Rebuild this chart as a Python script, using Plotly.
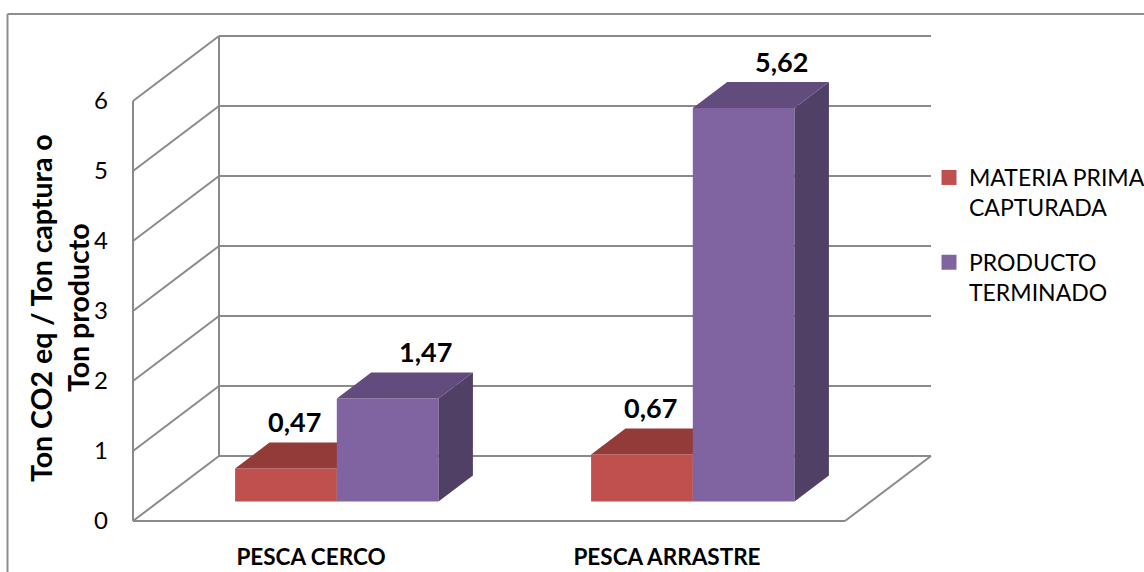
import plotly.graph_objects as go

# ---------------- data ----------------
categories = ["PESCA CERCO", "PESCA ARRASTRE"]
series_names = ["MATERIA PRIMA<br>CAPTURADA", "PRODUCTO<br>TERMINADO"]
materia_prima = [0.47, 0.67]
producto = [1.47, 5.62]
y_ticks = [0, 1, 2, 3, 4, 5, 6]
y_title_lines = ["Ton CO2 eq / Ton captura o", "Ton producto"]

series_values = [materia_prima, producto]

# ---------------- style / geometry ----------------
FONT = "Lato"
front_cols = ["#C0504D", "#8064A2"]
top_cols = ["#933B39", "#624C7D"]
side_cols = ["#7D302E", "#514066"]
GRID = "#8A8A8A"

FIG_W, FIG_H = 1144, 572
X_PX, Y_PX = 356.0, 70.0           # pixels per unit on the front plane
ML, MR, MT, MB = 126, 204, 31, 44
PW, PH = FIG_W - ML - MR, FIG_H - MT - MB
x0 = -0.5 - 7 / X_PX
y0 = -0.1
xr_ = [x0, x0 + PW / X_PX]
yr_ = [y0, y0 + PH / Y_PX]

BW = 1 / 3.5                       # bar width (gap width 150%)
DX, DY = 86 / X_PX, 65 / Y_PX      # full depth vector in data units
F0, F1 = 0.3, 0.7                  # bar depth span (fraction of depth)

n_cat = len(categories)
xmin, xmax = -0.5, n_cat - 0.5
ymax = y_ticks[-1]

fig = go.Figure()

# ---------------- walls & floor (shapes) ----------------
shapes = []
def seg(xa, ya, xb, yb):
    shapes.append(dict(type="line", xref="x", yref="y", x0=xa, y0=ya, x1=xb, y1=yb,
                       line=dict(color=GRID, width=2), layer="below"))

for v in y_ticks:
    seg(xmin + DX, v + DY, xmax + DX, v + DY)          # back wall gridlines
    seg(xmin, v, xmin + DX, v + DY)                    # side wall lines
seg(xmin + DX, DY, xmin + DX, ymax + DY)               # back wall left edge
seg(xmin, 0, xmin, ymax)                               # front vertical axis
seg(xmin, 0, xmax, 0)                                  # floor front edge
seg(xmax, 0, xmax + DX, DY)                            # floor right edge

# outer chart border (left + top)
def px_to_paper_x(px):
    return (px - ML) / PW
def px_to_paper_y(py):
    return (FIG_H - MB - py) / PH
shapes.append(dict(type="line", xref="paper", yref="paper",
                   x0=px_to_paper_x(7.5), y0=px_to_paper_y(14), x1=px_to_paper_x(7.5), y1=px_to_paper_y(600),
                   line=dict(color="#8E8E8E", width=2)))
shapes.append(dict(type="line", xref="paper", yref="paper",
                   x0=px_to_paper_x(7.5), y0=px_to_paper_y(14), x1=px_to_paper_x(1200), y1=px_to_paper_y(14),
                   line=dict(color="#8E8E8E", width=2)))

# ---------------- bars (3-D faces, painter order) ----------------
def poly(xs, ys, color):
    fig.add_trace(go.Scatter(x=xs + [xs[0]], y=ys + [ys[0]], mode="lines", fill="toself",
                             fillcolor=color, line=dict(width=0, color=color),
                             hoverinfo="skip", showlegend=False))

annotations = []
for c in range(n_cat):
    for s, vals in enumerate(series_values):
        v = vals[c]
        xl = c - BW + s * BW
        xr = xl + BW
        # front face
        poly([xl + F0 * DX, xr + F0 * DX, xr + F0 * DX, xl + F0 * DX],
             [F0 * DY, F0 * DY, v + F0 * DY, v + F0 * DY], front_cols[s])
        # side face
        poly([xr + F0 * DX, xr + F1 * DX, xr + F1 * DX, xr + F0 * DX],
             [F0 * DY, F1 * DY, v + F1 * DY, v + F0 * DY], side_cols[s])
        # top face
        poly([xl + F0 * DX, xr + F0 * DX, xr + F1 * DX, xl + F1 * DX],
             [v + F0 * DY, v + F0 * DY, v + F1 * DY, v + F1 * DY], top_cols[s])
        annotations.append(dict(x=(xl + xr) / 2 + F1 * DX, y=v + F1 * DY, xref="x", yref="y",
                                text="<b>" + f"{v:.2f}".replace(".", ",") + "</b>",
                                showarrow=False, yshift=21, xshift=(-26 if s == 0 else 3),
                                font=dict(family=FONT, size=27, color="black")))

# legend entries
for s, name in enumerate(series_names):
    fig.add_trace(go.Scatter(x=[None], y=[None], mode="markers", name=name,
                             legendgroup=str(s),
                             marker=dict(symbol="square", size=15, color=front_cols[s])))

# y-axis title (two lines)
for i, (line, px) in enumerate(zip(y_title_lines, [41, 78])):
    annotations.append(dict(x=px_to_paper_x(px), y=px_to_paper_y(308), xref="paper", yref="paper",
                            text="<b>" + line + "</b>", textangle=-90, showarrow=False,
                            xanchor="center", yanchor="middle",
                            font=dict(family=FONT, size=28.5, color="black")))

fig.update_layout(
    width=FIG_W, height=FIG_H,
    margin=dict(l=ML, r=MR, t=MT, b=MB, pad=0, autoexpand=False),
    paper_bgcolor="white", plot_bgcolor="white",
    font=dict(family=FONT, color="black"),
    shapes=shapes, annotations=annotations,
    showlegend=True,
    legend=dict(xref="container", yref="container", x=929 / FIG_W, y=1 - 156 / FIG_H,
                xanchor="left", yanchor="top", valign="top", tracegroupgap=22,
                font=dict(family=FONT, size=23, color="black"), bgcolor="rgba(0,0,0,0)"),
    xaxis=dict(range=xr_, showgrid=False, zeroline=False, showline=False, automargin=False,
               tickmode="array", tickvals=list(range(n_cat)),
               ticktext=["<b>" + c + "</b>" for c in categories], ticks="",
               ticklabelstandoff=13, tickfont=dict(family=FONT, size=22.5, color="black")),
    yaxis=dict(range=yr_, showgrid=False, zeroline=False, showline=False, automargin=False,
               tickmode="array", tickvals=y_ticks, ticktext=[str(t) for t in y_ticks],
               ticks="", ticklabelstandoff=17, tickfont=dict(family=FONT, size=24, color="black")),
)

fig.write_html("out.html")
